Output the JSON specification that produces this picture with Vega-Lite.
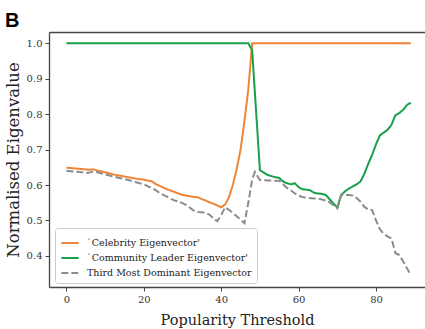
{
  "$schema": "https://vega.github.io/schema/vega-lite/v6.json",
  "width": 376,
  "height": 255,
  "autosize": {"type": "none"},
  "padding": {"left": 49, "top": 32, "right": 0, "bottom": 42},
  "background": "white",
  "title": {"text": "B", "anchor": "start", "frame": "bounds", "font": "Liberation Sans", "fontSize": 20, "fontWeight": "bold", "color": "#000000", "offset": 1},
  "config": {
    "view": {"stroke": null},
    "axis": {"domainColor": "#444444", "domainWidth": 1.3, "tickColor": "#444444", "tickSize": 4, "tickWidth": 1, "labelColor": "#333333", "labelFont": "DejaVu Serif", "labelFontSize": 10, "labelPadding": 3, "titleFont": "DejaVu Serif", "titleFontWeight": "normal", "titleFontSize": 14.5, "titleColor": "#222222", "grid": false}
  },
  "resolve": {"axis": {"x": "independent"}},
  "data": {"values": [
    {"s": "`Celebrity Eigenvector'", "t": 0, "v": 0.649},
    {"s": "`Celebrity Eigenvector'", "t": 2, "v": 0.647},
    {"s": "`Celebrity Eigenvector'", "t": 4, "v": 0.645},
    {"s": "`Celebrity Eigenvector'", "t": 6, "v": 0.643},
    {"s": "`Celebrity Eigenvector'", "t": 7, "v": 0.644},
    {"s": "`Celebrity Eigenvector'", "t": 8, "v": 0.641},
    {"s": "`Celebrity Eigenvector'", "t": 10, "v": 0.636},
    {"s": "`Celebrity Eigenvector'", "t": 12, "v": 0.630},
    {"s": "`Celebrity Eigenvector'", "t": 14, "v": 0.626},
    {"s": "`Celebrity Eigenvector'", "t": 16, "v": 0.622},
    {"s": "`Celebrity Eigenvector'", "t": 18, "v": 0.618},
    {"s": "`Celebrity Eigenvector'", "t": 20, "v": 0.615},
    {"s": "`Celebrity Eigenvector'", "t": 21, "v": 0.612},
    {"s": "`Celebrity Eigenvector'", "t": 22, "v": 0.611},
    {"s": "`Celebrity Eigenvector'", "t": 23, "v": 0.603},
    {"s": "`Celebrity Eigenvector'", "t": 24, "v": 0.598},
    {"s": "`Celebrity Eigenvector'", "t": 25, "v": 0.593},
    {"s": "`Celebrity Eigenvector'", "t": 26, "v": 0.588},
    {"s": "`Celebrity Eigenvector'", "t": 27, "v": 0.584},
    {"s": "`Celebrity Eigenvector'", "t": 28, "v": 0.580},
    {"s": "`Celebrity Eigenvector'", "t": 29, "v": 0.576},
    {"s": "`Celebrity Eigenvector'", "t": 30, "v": 0.572},
    {"s": "`Celebrity Eigenvector'", "t": 31, "v": 0.570},
    {"s": "`Celebrity Eigenvector'", "t": 32, "v": 0.568},
    {"s": "`Celebrity Eigenvector'", "t": 33, "v": 0.566},
    {"s": "`Celebrity Eigenvector'", "t": 34, "v": 0.565},
    {"s": "`Celebrity Eigenvector'", "t": 35, "v": 0.560},
    {"s": "`Celebrity Eigenvector'", "t": 36, "v": 0.556},
    {"s": "`Celebrity Eigenvector'", "t": 37, "v": 0.551},
    {"s": "`Celebrity Eigenvector'", "t": 38, "v": 0.547},
    {"s": "`Celebrity Eigenvector'", "t": 39, "v": 0.542},
    {"s": "`Celebrity Eigenvector'", "t": 40, "v": 0.537},
    {"s": "`Celebrity Eigenvector'", "t": 41, "v": 0.545},
    {"s": "`Celebrity Eigenvector'", "t": 42, "v": 0.565},
    {"s": "`Celebrity Eigenvector'", "t": 43, "v": 0.600},
    {"s": "`Celebrity Eigenvector'", "t": 44, "v": 0.645},
    {"s": "`Celebrity Eigenvector'", "t": 45, "v": 0.700},
    {"s": "`Celebrity Eigenvector'", "t": 46, "v": 0.780},
    {"s": "`Celebrity Eigenvector'", "t": 47, "v": 0.870},
    {"s": "`Celebrity Eigenvector'", "t": 48, "v": 1.0},
    {"s": "`Celebrity Eigenvector'", "t": 55, "v": 1.0},
    {"s": "`Celebrity Eigenvector'", "t": 65, "v": 1.0},
    {"s": "`Celebrity Eigenvector'", "t": 75, "v": 1.0},
    {"s": "`Celebrity Eigenvector'", "t": 89, "v": 1.0},
    {"s": "`Community Leader Eigenvector'", "t": 0, "v": 1.0},
    {"s": "`Community Leader Eigenvector'", "t": 10, "v": 1.0},
    {"s": "`Community Leader Eigenvector'", "t": 20, "v": 1.0},
    {"s": "`Community Leader Eigenvector'", "t": 30, "v": 1.0},
    {"s": "`Community Leader Eigenvector'", "t": 40, "v": 1.0},
    {"s": "`Community Leader Eigenvector'", "t": 47, "v": 1.0},
    {"s": "`Community Leader Eigenvector'", "t": 48, "v": 0.981},
    {"s": "`Community Leader Eigenvector'", "t": 49, "v": 0.810},
    {"s": "`Community Leader Eigenvector'", "t": 50, "v": 0.642},
    {"s": "`Community Leader Eigenvector'", "t": 51, "v": 0.635},
    {"s": "`Community Leader Eigenvector'", "t": 52, "v": 0.628},
    {"s": "`Community Leader Eigenvector'", "t": 53, "v": 0.625},
    {"s": "`Community Leader Eigenvector'", "t": 54, "v": 0.622},
    {"s": "`Community Leader Eigenvector'", "t": 55, "v": 0.620},
    {"s": "`Community Leader Eigenvector'", "t": 56, "v": 0.610},
    {"s": "`Community Leader Eigenvector'", "t": 57, "v": 0.605},
    {"s": "`Community Leader Eigenvector'", "t": 58, "v": 0.602},
    {"s": "`Community Leader Eigenvector'", "t": 59, "v": 0.605},
    {"s": "`Community Leader Eigenvector'", "t": 60, "v": 0.594},
    {"s": "`Community Leader Eigenvector'", "t": 61, "v": 0.588},
    {"s": "`Community Leader Eigenvector'", "t": 62, "v": 0.587},
    {"s": "`Community Leader Eigenvector'", "t": 63, "v": 0.585},
    {"s": "`Community Leader Eigenvector'", "t": 64, "v": 0.578},
    {"s": "`Community Leader Eigenvector'", "t": 65, "v": 0.576},
    {"s": "`Community Leader Eigenvector'", "t": 66, "v": 0.575},
    {"s": "`Community Leader Eigenvector'", "t": 67, "v": 0.572},
    {"s": "`Community Leader Eigenvector'", "t": 68, "v": 0.560},
    {"s": "`Community Leader Eigenvector'", "t": 69, "v": 0.548},
    {"s": "`Community Leader Eigenvector'", "t": 70, "v": 0.536},
    {"s": "`Community Leader Eigenvector'", "t": 71, "v": 0.572},
    {"s": "`Community Leader Eigenvector'", "t": 72, "v": 0.582},
    {"s": "`Community Leader Eigenvector'", "t": 73, "v": 0.590},
    {"s": "`Community Leader Eigenvector'", "t": 74, "v": 0.596},
    {"s": "`Community Leader Eigenvector'", "t": 75, "v": 0.602},
    {"s": "`Community Leader Eigenvector'", "t": 76, "v": 0.610},
    {"s": "`Community Leader Eigenvector'", "t": 77, "v": 0.632},
    {"s": "`Community Leader Eigenvector'", "t": 78, "v": 0.660},
    {"s": "`Community Leader Eigenvector'", "t": 79, "v": 0.685},
    {"s": "`Community Leader Eigenvector'", "t": 80, "v": 0.715},
    {"s": "`Community Leader Eigenvector'", "t": 81, "v": 0.740},
    {"s": "`Community Leader Eigenvector'", "t": 82, "v": 0.748},
    {"s": "`Community Leader Eigenvector'", "t": 83, "v": 0.756},
    {"s": "`Community Leader Eigenvector'", "t": 84, "v": 0.770},
    {"s": "`Community Leader Eigenvector'", "t": 85, "v": 0.797},
    {"s": "`Community Leader Eigenvector'", "t": 86, "v": 0.803},
    {"s": "`Community Leader Eigenvector'", "t": 87, "v": 0.812},
    {"s": "`Community Leader Eigenvector'", "t": 88, "v": 0.826},
    {"s": "`Community Leader Eigenvector'", "t": 89, "v": 0.832},
    {"s": "Third Most Dominant Eigenvector", "t": 0, "v": 0.640},
    {"s": "Third Most Dominant Eigenvector", "t": 2, "v": 0.638},
    {"s": "Third Most Dominant Eigenvector", "t": 4, "v": 0.636},
    {"s": "Third Most Dominant Eigenvector", "t": 5, "v": 0.634},
    {"s": "Third Most Dominant Eigenvector", "t": 6, "v": 0.635},
    {"s": "Third Most Dominant Eigenvector", "t": 7, "v": 0.638},
    {"s": "Third Most Dominant Eigenvector", "t": 8, "v": 0.636},
    {"s": "Third Most Dominant Eigenvector", "t": 10, "v": 0.630},
    {"s": "Third Most Dominant Eigenvector", "t": 12, "v": 0.624},
    {"s": "Third Most Dominant Eigenvector", "t": 14, "v": 0.619},
    {"s": "Third Most Dominant Eigenvector", "t": 16, "v": 0.614},
    {"s": "Third Most Dominant Eigenvector", "t": 18, "v": 0.608},
    {"s": "Third Most Dominant Eigenvector", "t": 20, "v": 0.602},
    {"s": "Third Most Dominant Eigenvector", "t": 21, "v": 0.597},
    {"s": "Third Most Dominant Eigenvector", "t": 22, "v": 0.591},
    {"s": "Third Most Dominant Eigenvector", "t": 23, "v": 0.586},
    {"s": "Third Most Dominant Eigenvector", "t": 24, "v": 0.578},
    {"s": "Third Most Dominant Eigenvector", "t": 25, "v": 0.572},
    {"s": "Third Most Dominant Eigenvector", "t": 26, "v": 0.567},
    {"s": "Third Most Dominant Eigenvector", "t": 27, "v": 0.561},
    {"s": "Third Most Dominant Eigenvector", "t": 28, "v": 0.556},
    {"s": "Third Most Dominant Eigenvector", "t": 29, "v": 0.553},
    {"s": "Third Most Dominant Eigenvector", "t": 30, "v": 0.549},
    {"s": "Third Most Dominant Eigenvector", "t": 31, "v": 0.543},
    {"s": "Third Most Dominant Eigenvector", "t": 32, "v": 0.535},
    {"s": "Third Most Dominant Eigenvector", "t": 33, "v": 0.527},
    {"s": "Third Most Dominant Eigenvector", "t": 34, "v": 0.524},
    {"s": "Third Most Dominant Eigenvector", "t": 35, "v": 0.523},
    {"s": "Third Most Dominant Eigenvector", "t": 36, "v": 0.521},
    {"s": "Third Most Dominant Eigenvector", "t": 37, "v": 0.516},
    {"s": "Third Most Dominant Eigenvector", "t": 38, "v": 0.506},
    {"s": "Third Most Dominant Eigenvector", "t": 39, "v": 0.498},
    {"s": "Third Most Dominant Eigenvector", "t": 40, "v": 0.515},
    {"s": "Third Most Dominant Eigenvector", "t": 41, "v": 0.537},
    {"s": "Third Most Dominant Eigenvector", "t": 42, "v": 0.530},
    {"s": "Third Most Dominant Eigenvector", "t": 43, "v": 0.521},
    {"s": "Third Most Dominant Eigenvector", "t": 44, "v": 0.512},
    {"s": "Third Most Dominant Eigenvector", "t": 45, "v": 0.502},
    {"s": "Third Most Dominant Eigenvector", "t": 46, "v": 0.492},
    {"s": "Third Most Dominant Eigenvector", "t": 47, "v": 0.550},
    {"s": "Third Most Dominant Eigenvector", "t": 48, "v": 0.615},
    {"s": "Third Most Dominant Eigenvector", "t": 48.7, "v": 0.637},
    {"s": "Third Most Dominant Eigenvector", "t": 50, "v": 0.614},
    {"s": "Third Most Dominant Eigenvector", "t": 52, "v": 0.613},
    {"s": "Third Most Dominant Eigenvector", "t": 54, "v": 0.612},
    {"s": "Third Most Dominant Eigenvector", "t": 55, "v": 0.612},
    {"s": "Third Most Dominant Eigenvector", "t": 56, "v": 0.602},
    {"s": "Third Most Dominant Eigenvector", "t": 57, "v": 0.592},
    {"s": "Third Most Dominant Eigenvector", "t": 58, "v": 0.585},
    {"s": "Third Most Dominant Eigenvector", "t": 59, "v": 0.576},
    {"s": "Third Most Dominant Eigenvector", "t": 60, "v": 0.570},
    {"s": "Third Most Dominant Eigenvector", "t": 61, "v": 0.566},
    {"s": "Third Most Dominant Eigenvector", "t": 62, "v": 0.564},
    {"s": "Third Most Dominant Eigenvector", "t": 64, "v": 0.562},
    {"s": "Third Most Dominant Eigenvector", "t": 65, "v": 0.562},
    {"s": "Third Most Dominant Eigenvector", "t": 66, "v": 0.559},
    {"s": "Third Most Dominant Eigenvector", "t": 67, "v": 0.556},
    {"s": "Third Most Dominant Eigenvector", "t": 68, "v": 0.551},
    {"s": "Third Most Dominant Eigenvector", "t": 69, "v": 0.543},
    {"s": "Third Most Dominant Eigenvector", "t": 70, "v": 0.534},
    {"s": "Third Most Dominant Eigenvector", "t": 71, "v": 0.571},
    {"s": "Third Most Dominant Eigenvector", "t": 72, "v": 0.572},
    {"s": "Third Most Dominant Eigenvector", "t": 73, "v": 0.572},
    {"s": "Third Most Dominant Eigenvector", "t": 74, "v": 0.570},
    {"s": "Third Most Dominant Eigenvector", "t": 75, "v": 0.563},
    {"s": "Third Most Dominant Eigenvector", "t": 76, "v": 0.553},
    {"s": "Third Most Dominant Eigenvector", "t": 77, "v": 0.538},
    {"s": "Third Most Dominant Eigenvector", "t": 78, "v": 0.531},
    {"s": "Third Most Dominant Eigenvector", "t": 79, "v": 0.529},
    {"s": "Third Most Dominant Eigenvector", "t": 80, "v": 0.500},
    {"s": "Third Most Dominant Eigenvector", "t": 81, "v": 0.475},
    {"s": "Third Most Dominant Eigenvector", "t": 82, "v": 0.462},
    {"s": "Third Most Dominant Eigenvector", "t": 83, "v": 0.455},
    {"s": "Third Most Dominant Eigenvector", "t": 84, "v": 0.449},
    {"s": "Third Most Dominant Eigenvector", "t": 85, "v": 0.408},
    {"s": "Third Most Dominant Eigenvector", "t": 86, "v": 0.402},
    {"s": "Third Most Dominant Eigenvector", "t": 87, "v": 0.385},
    {"s": "Third Most Dominant Eigenvector", "t": 88, "v": 0.365},
    {"s": "Third Most Dominant Eigenvector", "t": 89, "v": 0.345}
  ]},
  "layer": [
    {
      "mark": {"type": "line", "strokeWidth": 2, "clip": true},
      "encoding": {
        "x": {"field": "t", "type": "quantitative", "scale": {"domain": [-4.5, 92.66], "nice": false, "zero": false}, "axis": {"title": "Popularity Threshold", "values": [0, 20, 40, 60, 80], "titlePadding": 9}},
        "y": {"field": "v", "type": "quantitative", "scale": {"domain": [0.312, 1.032], "nice": false, "zero": false}, "axis": {"title": "Normalised Eigenvalue", "values": [0.4, 0.5, 0.6, 0.7, 0.8, 0.9, 1.0], "format": ".1f", "titlePadding": 5, "titleFontSize": 16.5}},
        "color": {"field": "s", "type": "nominal", "scale": {"domain": ["`Celebrity Eigenvector'", "`Community Leader Eigenvector'", "Third Most Dominant Eigenvector"], "range": ["#ef8536", "#17a04a", "#8c8c8c"]},
          "legend": {"orient": "none", "legendX": 6, "legendY": 196, "title": null, "fillColor": "#ffffff", "strokeColor": "#cccccc", "cornerRadius": 3, "padding": 5, "symbolType": "stroke", "symbolSize": 300, "symbolStrokeWidth": 2, "labelFont": "DejaVu Serif", "labelFontSize": 9.5, "labelColor": "#222222", "labelOffset": 7, "rowPadding": 0, "labelLimit": 300}},
        "strokeDash": {"field": "s", "type": "nominal", "scale": {"domain": ["`Celebrity Eigenvector'", "`Community Leader Eigenvector'", "Third Most Dominant Eigenvector"], "range": [[1, 0], [1, 0], [7, 3]]},
          "legend": {"orient": "none", "legendX": 6, "legendY": 196, "title": null, "fillColor": "#ffffff", "strokeColor": "#cccccc", "cornerRadius": 3, "padding": 5, "symbolType": "stroke", "symbolSize": 300, "symbolStrokeWidth": 2, "labelFont": "DejaVu Serif", "labelFontSize": 9.5, "labelColor": "#222222", "labelOffset": 7, "rowPadding": 0, "labelLimit": 300}}
      }
    },
    {
      "mark": {"type": "rule", "opacity": 0},
      "encoding": {
        "x": {"field": "t", "type": "quantitative", "axis": {"orient": "top", "labels": false, "ticks": false, "domain": true, "title": null}}
      }
    }
  ]
}
